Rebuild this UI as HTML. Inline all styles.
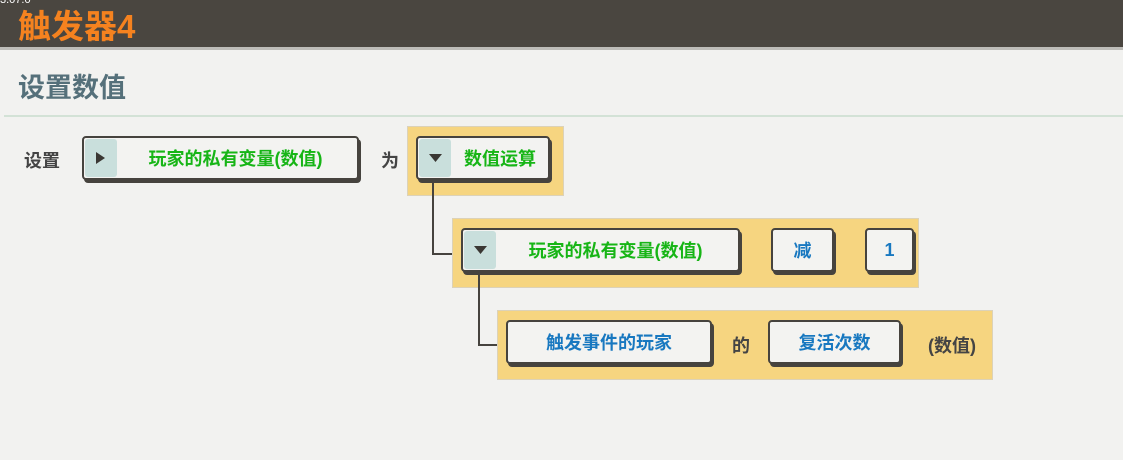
<!DOCTYPE html>
<html><head><meta charset="utf-8"><style>
*{margin:0;padding:0;box-sizing:border-box}
body{width:1123px;height:460px;background:#f2f2f0;position:relative;overflow:hidden;font-family:"Liberation Sans","Noto Sans CJK SC",sans-serif;font-weight:bold}
.a{position:absolute}
.hdr{left:0;top:0;width:1123px;height:47px;background:#4a4640}
.hs{left:0;top:47px;width:1123px;height:3px;background:#bdbcb8}
.pan{background:#f6d580;border:1px solid #dcd2b8}
.box{background:#f3f3f1;border:2px solid #46433e;border-radius:4px;box-shadow:2px 3px 0 #46433e;display:flex;align-items:center;justify-content:center;font-size:18px}
.g{color:#17b516}.b{color:#1878c0}
.ic{position:absolute;left:1px;top:1px;bottom:1px;width:32px;background:#c9dfdc;border-radius:3px}
.t{color:#444;font-size:18px}
.ln{background:#46433e}
</style></head><body>
<div class="a hdr"></div><div class="a hs"></div>
<div class="a" style="left:0;top:-6px;font-size:11px;color:#fff;font-weight:normal">3.07.0</div>
<div class="a" style="left:18px;top:0px;font-size:33px;color:#f5821f">触发器4</div>
<div class="a" style="left:18px;top:66px;font-size:27px;color:#55707a">设置数值</div>
<div class="a" style="left:4px;top:115px;width:1119px;height:2px;background:#d3e2d6"></div>

<div class="a t" style="left:24px;top:147px">设置</div>
<div class="a box g" style="left:82px;top:136px;width:277px;height:44px;padding-left:30px"><div class="ic"></div><svg class="a" style="left:12px;top:14px" width="10" height="12"><path d="M0 0L9 6L0 12Z" fill="#3a3733"/></svg>玩家的私有变量(数值)</div>
<div class="a t" style="left:381px;top:147px">为</div>

<div class="a pan" style="left:407px;top:126px;width:157px;height:70px"></div>
<div class="a box g" style="left:416px;top:136px;width:134px;height:44px;padding-left:34px"><div class="ic"></div><svg class="a" style="left:11px;top:16px" width="13" height="8"><path d="M0 0L13 0L6.5 8Z" fill="#3a3733"/></svg>数值运算</div>
<div class="a ln" style="left:432px;top:180px;width:2px;height:75px"></div>
<div class="a ln" style="left:432px;top:253px;width:22px;height:2px"></div>

<div class="a pan" style="left:452px;top:218px;width:467px;height:70px"></div>
<div class="a box g" style="left:461px;top:228px;width:279px;height:44px;padding-left:30px"><div class="ic"></div><svg class="a" style="left:11px;top:16px" width="13" height="8"><path d="M0 0L13 0L6.5 8Z" fill="#3a3733"/></svg>玩家的私有变量(数值)</div>
<div class="a box b" style="left:771px;top:228px;width:63px;height:44px">减</div>
<div class="a box b" style="left:865px;top:228px;width:49px;height:44px">1</div>
<div class="a ln" style="left:478px;top:272px;width:2px;height:74px"></div>
<div class="a ln" style="left:478px;top:344px;width:20px;height:2px"></div>

<div class="a pan" style="left:497px;top:310px;width:496px;height:70px"></div>
<div class="a box b" style="left:506px;top:320px;width:206px;height:44px">触发事件的玩家</div>
<div class="a t" style="left:732px;top:332px">的</div>
<div class="a box b" style="left:768px;top:320px;width:133px;height:44px">复活次数</div>
<div class="a t" style="left:928px;top:332px">(数值)</div>
</body></html>
